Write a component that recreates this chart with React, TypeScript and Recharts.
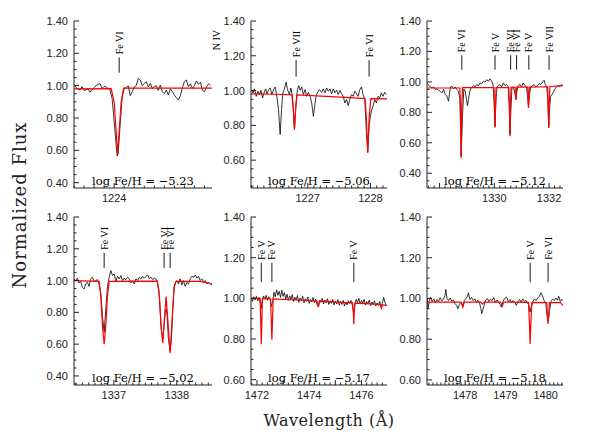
import React from 'react';
import { LineChart, Line, XAxis, YAxis, ReferenceLine, ReferenceDot } from 'recharts';

type Pt = [number, number];

// ---- panel 1 : around 1224 A ----
const obs1: Pt[] = [
  [1223.60, 1.008], [1223.62, 0.988], [1223.64, 0.980], [1223.66, 0.973], [1223.68, 0.994], [1223.70, 0.971],
  [1223.72, 0.975], [1223.74, 0.980], [1223.76, 0.959], [1223.78, 0.975], [1223.80, 0.988], [1223.82, 1.000],
  [1223.84, 1.008], [1223.86, 1.012], [1223.88, 0.983], [1223.90, 0.996], [1223.92, 0.992], [1223.94, 0.983],
  [1223.96, 0.970], [1223.98, 0.920], [1224.00, 0.780], [1224.02, 0.630], [1224.03, 0.565], [1224.04, 0.580],
  [1224.06, 0.760], [1224.08, 0.930], [1224.10, 0.983], [1224.12, 0.988], [1224.14, 1.000], [1224.16, 0.938],
  [1224.18, 0.963], [1224.20, 0.992], [1224.22, 1.000], [1224.24, 1.045], [1224.26, 1.035], [1224.28, 1.000],
  [1224.30, 1.012], [1224.32, 1.025], [1224.34, 0.992], [1224.36, 1.014], [1224.38, 0.983], [1224.40, 0.996],
  [1224.42, 1.000], [1224.44, 0.971], [1224.46, 1.004], [1224.48, 0.963], [1224.50, 0.950], [1224.52, 0.973],
  [1224.54, 0.942], [1224.56, 0.980], [1224.58, 0.963], [1224.60, 0.942], [1224.62, 0.926], [1224.64, 0.911],
  [1224.66, 0.938], [1224.68, 0.988], [1224.70, 1.025], [1224.72, 1.035], [1224.74, 0.994], [1224.76, 1.012],
  [1224.78, 0.983], [1224.80, 1.000], [1224.82, 1.029], [1224.84, 1.008], [1224.86, 1.021], [1224.88, 0.971],
  [1224.90, 0.963], [1224.92, 0.992], [1224.94, 1.012], [1224.96, 1.000],
];
const mod1: Pt[] = [
  [1223.60, 0.980], [1223.97, 0.982], [1224.00, 0.900], [1224.02, 0.720], [1224.034, 0.575],
  [1224.05, 0.720], [1224.07, 0.900], [1224.095, 0.985], [1224.975, 0.985],
];
const ions1 = [{ w: 1224.05, name: 'Fe VI' }, { w: 1225.02, name: 'N IV', noTick: true }];
const fe1 = '−5.23';

// ---- panel 2 : 1226 - 1228 A ----
const obs2: Pt[] = [
  [1226.095, 1.006], [1226.127, 0.987], [1226.148, 1.010], [1226.179, 0.967], [1226.206, 0.996], [1226.232, 0.977],
  [1226.253, 1.002], [1226.280, 0.958], [1226.306, 0.990], [1226.328, 1.010], [1226.349, 0.981], [1226.375, 1.006],
  [1226.402, 1.015], [1226.428, 0.977], [1226.455, 1.006], [1226.481, 1.021], [1226.507, 0.967], [1226.534, 0.891],
  [1226.560, 0.747], [1226.582, 0.891], [1226.603, 0.987], [1226.624, 1.006], [1226.656, 1.048], [1226.677, 1.006],
  [1226.708, 0.977], [1226.730, 1.015], [1226.756, 0.967], [1226.772, 0.872], [1226.788, 0.776], [1226.804, 0.872],
  [1226.820, 0.958], [1226.836, 1.006], [1226.857, 1.029], [1226.878, 1.002], [1226.904, 1.021], [1226.931, 0.977],
  [1226.957, 1.006], [1226.984, 0.967], [1227.010, 0.990], [1227.037, 0.967], [1227.063, 0.929], [1227.090, 0.852],
  [1227.111, 0.910], [1227.132, 0.967], [1227.153, 0.987], [1227.185, 1.006], [1227.222, 0.990], [1227.248, 1.010],
  [1227.275, 0.987], [1227.301, 1.015], [1227.328, 0.996], [1227.354, 1.010], [1227.381, 0.981], [1227.407, 1.010],
  [1227.434, 0.987], [1227.460, 1.002], [1227.487, 0.977], [1227.513, 1.002], [1227.539, 0.983], [1227.566, 0.967],
  [1227.592, 0.929], [1227.619, 0.948], [1227.645, 0.914], [1227.672, 0.952], [1227.698, 0.977], [1227.724, 0.967],
  [1227.751, 0.996], [1227.777, 0.983], [1227.804, 0.967], [1227.830, 1.006], [1227.857, 1.021], [1227.883, 0.977],
  [1227.910, 0.948], [1227.936, 0.757], [1227.957, 0.651], [1227.978, 0.795], [1227.999, 0.852], [1228.021, 0.891],
  [1228.042, 0.910], [1228.068, 0.948], [1228.095, 0.929], [1228.121, 0.967], [1228.148, 0.958], [1228.174, 0.987],
  [1228.201, 0.967], [1228.227, 0.990], [1228.254, 0.977],
];
const mod2: Pt[] = [
  [1226.095, 0.981], [1226.507, 0.979], [1226.746, 0.975], [1226.767, 0.910], [1226.788, 0.776], [1226.809, 0.910],
  [1226.830, 0.975], [1227.301, 0.967], [1227.672, 0.960], [1227.915, 0.954], [1227.936, 0.833], [1227.957, 0.642],
  [1227.978, 0.833], [1228.005, 0.954], [1228.264, 0.952],
];
const ions2 = [{ w: 1226.814, name: 'Fe VII' }, { w: 1227.978, name: 'Fe VI' }];
const fe2 = '−5.06';

// ---- panel 3 : 1328 - 1332 A ----
const obs3: Pt[] = [
  [1327.540, 0.993], [1327.601, 0.976], [1327.661, 0.967], [1327.722, 0.961], [1327.783, 0.967], [1327.843, 0.950],
  [1327.904, 0.954], [1327.964, 0.945], [1328.025, 0.939], [1328.086, 0.928], [1328.146, 0.950], [1328.207, 0.917],
  [1328.267, 0.906], [1328.328, 0.873], [1328.364, 0.928], [1328.401, 0.967], [1328.449, 0.971], [1328.510, 0.954],
  [1328.570, 0.967], [1328.631, 0.950], [1328.692, 0.939], [1328.740, 0.884], [1328.789, 0.511], [1328.837, 0.774],
  [1328.886, 0.954], [1328.934, 0.939], [1328.983, 0.884], [1329.019, 0.844], [1329.055, 0.884], [1329.104, 0.939],
  [1329.152, 0.961], [1329.201, 0.967], [1329.249, 0.976], [1329.298, 0.967], [1329.358, 0.982], [1329.419, 0.976],
  [1329.479, 0.993], [1329.540, 0.989], [1329.601, 1.004], [1329.661, 0.998], [1329.722, 1.015], [1329.783, 1.004],
  [1329.843, 1.020], [1329.904, 1.004], [1329.952, 0.982], [1329.989, 0.884], [1330.025, 0.708], [1330.061, 0.884],
  [1330.098, 0.967], [1330.146, 0.976], [1330.207, 0.982], [1330.267, 0.967], [1330.328, 0.993], [1330.389, 0.976],
  [1330.449, 0.982], [1330.510, 0.967], [1330.546, 0.840], [1330.570, 0.654], [1330.607, 0.818], [1330.643, 0.961],
  [1330.680, 0.967], [1330.716, 0.950], [1330.752, 0.928], [1330.789, 0.884], [1330.825, 0.939], [1330.873, 0.976],
  [1330.934, 0.982], [1330.995, 0.967], [1331.055, 0.993], [1331.116, 0.976], [1331.176, 0.967], [1331.213, 0.906],
  [1331.249, 0.836], [1331.286, 0.917], [1331.334, 0.967], [1331.395, 0.976], [1331.455, 0.982], [1331.516, 0.967],
  [1331.577, 0.976], [1331.637, 0.989], [1331.698, 0.982], [1331.758, 0.998], [1331.819, 1.011], [1331.867, 0.982],
  [1331.916, 0.967], [1331.952, 0.884], [1331.989, 0.702], [1332.025, 0.840], [1332.061, 0.906], [1332.110, 0.917],
  [1332.158, 0.932], [1332.207, 0.950], [1332.267, 0.967], [1332.328, 0.976], [1332.389, 0.967], [1332.449, 0.982],
  [1332.510, 0.976],
];
const mod3: Pt[] = [
  [1327.54, 0.960], [1328.74, 0.960], [1328.765, 0.850], [1328.789, 0.500], [1328.813, 0.850], [1328.84, 0.962],
  [1329.99, 0.963], [1330.005, 0.850], [1330.025, 0.700], [1330.045, 0.850], [1330.065, 0.963], [1330.53, 0.963],
  [1330.55, 0.850], [1330.57, 0.643], [1330.59, 0.850], [1330.61, 0.964], [1330.76, 0.964], [1330.775, 0.920],
  [1330.789, 0.884], [1330.803, 0.920], [1330.82, 0.965], [1331.22, 0.965], [1331.235, 0.900], [1331.249, 0.829],
  [1331.263, 0.900], [1331.28, 0.966], [1331.95, 0.968], [1331.97, 0.850], [1331.989, 0.697], [1332.008, 0.850],
  [1332.03, 0.970], [1332.51, 0.975],
];
const ions3 = [
  { w: 1328.813, name: 'Fe VI' }, { w: 1330.025, name: 'Fe V' }, { w: 1330.595, name: 'Fe VI' },
  { w: 1330.813, name: 'Fe VI' }, { w: 1331.261, name: 'Fe V' }, { w: 1332.001, name: 'Fe VII' },
];
const fe3 = '−5.12';

// ---- panel 4 : 1337 - 1338 A ----
const obs4: Pt[] = [
  [1336.367, 1.011], [1336.394, 1.000], [1336.420, 1.015], [1336.447, 0.985], [1336.473, 0.994], [1336.500, 0.958],
  [1336.527, 0.947], [1336.553, 0.979], [1336.580, 0.989], [1336.606, 0.964], [1336.633, 1.011], [1336.660, 1.021],
  [1336.686, 0.994], [1336.713, 1.000], [1336.739, 1.006], [1336.766, 0.979], [1336.793, 0.916], [1336.819, 0.779],
  [1336.846, 0.674], [1336.872, 0.821], [1336.899, 0.964], [1336.926, 1.021], [1336.952, 1.063], [1336.979, 1.032],
  [1337.005, 1.042], [1337.032, 0.994], [1337.059, 1.027], [1337.085, 1.011], [1337.112, 1.032], [1337.138, 1.000],
  [1337.165, 1.015], [1337.191, 1.006], [1337.218, 1.021], [1337.245, 1.011], [1337.271, 0.985], [1337.298, 1.000],
  [1337.324, 0.979], [1337.351, 1.011], [1337.378, 1.000], [1337.404, 1.021], [1337.431, 1.011], [1337.457, 1.027],
  [1337.484, 1.015], [1337.511, 1.027], [1337.537, 1.036], [1337.564, 1.011], [1337.590, 1.021], [1337.617, 1.006],
  [1337.644, 1.015], [1337.670, 1.011], [1337.691, 0.989], [1337.713, 0.947], [1337.734, 0.821], [1337.755, 0.684],
  [1337.777, 0.636], [1337.798, 0.716], [1337.814, 0.800], [1337.830, 0.821], [1337.846, 0.779], [1337.867, 0.632],
  [1337.894, 0.558], [1337.915, 0.632], [1337.936, 0.821], [1337.957, 0.958], [1337.979, 0.989], [1338.000, 1.000],
  [1338.027, 0.979], [1338.053, 1.011], [1338.080, 0.973], [1338.106, 1.000], [1338.133, 0.964], [1338.160, 0.989],
  [1338.186, 0.979], [1338.213, 1.011], [1338.239, 1.027], [1338.266, 1.021], [1338.293, 1.036], [1338.319, 1.015],
  [1338.346, 1.027], [1338.372, 1.000], [1338.399, 1.011], [1338.426, 0.989], [1338.452, 1.000], [1338.479, 0.979],
  [1338.505, 0.989], [1338.532, 0.979], [1338.559, 0.973],
];
const mod4: Pt[] = [
  [1336.367, 1.000], [1336.766, 0.995], [1336.793, 0.905], [1336.819, 0.716], [1336.846, 0.600], [1336.872, 0.716],
  [1336.899, 0.905], [1336.926, 0.995], [1337.691, 0.996], [1337.723, 0.905], [1337.750, 0.716], [1337.777, 0.606],
  [1337.803, 0.758], [1337.830, 0.900], [1337.856, 0.758], [1337.894, 0.543], [1337.926, 0.758], [1337.957, 0.958],
  [1337.989, 0.995], [1338.370, 0.995], [1338.559, 0.980],
];
const ions4 = [{ w: 1336.846, name: 'Fe VI' }, { w: 1337.798, name: 'Fe VI' }, { w: 1337.894, name: 'Fe VI' }];
const fe4 = '−5.02';

// ---- panel 5 : 1472 - 1477 A ----
const obs5: Pt[] = [
  [1471.78, 1.002], [1471.83, 0.985], [1471.88, 1.008], [1471.93, 0.992], [1471.98, 1.010], [1472.03, 0.988],
  [1472.08, 1.004], [1472.13, 0.975], [1472.16, 0.950], [1472.20, 0.990], [1472.25, 1.012], [1472.30, 0.995],
  [1472.35, 1.015], [1472.40, 0.990], [1472.45, 1.008], [1472.50, 0.996], [1472.55, 0.960], [1472.60, 0.985],
  [1472.65, 1.030], [1472.70, 1.008], [1472.75, 1.042], [1472.80, 1.015], [1472.85, 1.035], [1472.90, 1.005],
  [1472.95, 1.040], [1473.00, 1.010], [1473.05, 1.028], [1473.10, 0.998], [1473.15, 1.020], [1473.20, 0.990],
  [1473.25, 1.012], [1473.30, 0.995], [1473.35, 1.018], [1473.40, 0.985], [1473.45, 1.005], [1473.50, 0.992],
  [1473.55, 1.014], [1473.60, 0.980], [1473.65, 1.002], [1473.70, 0.990], [1473.75, 1.010], [1473.80, 0.978],
  [1473.85, 0.998], [1473.90, 0.985], [1473.95, 1.006], [1474.00, 0.975], [1474.05, 0.995], [1474.10, 0.982],
  [1474.15, 1.004], [1474.20, 0.978], [1474.25, 0.996], [1474.30, 0.970], [1474.35, 0.960], [1474.40, 0.992],
  [1474.45, 0.980], [1474.50, 1.000], [1474.55, 0.972], [1474.60, 0.992], [1474.65, 0.978], [1474.70, 0.998],
  [1474.75, 0.970], [1474.80, 0.988], [1474.85, 0.975], [1474.90, 0.995], [1474.95, 0.968], [1475.00, 0.986],
  [1475.05, 0.972], [1475.10, 0.994], [1475.15, 0.966], [1475.20, 0.985], [1475.25, 0.970], [1475.30, 0.990],
  [1475.35, 0.962], [1475.40, 0.982], [1475.45, 0.968], [1475.50, 0.988], [1475.55, 0.975], [1475.60, 0.990],
  [1475.65, 0.965], [1475.70, 0.930], [1475.75, 0.972], [1475.80, 0.995], [1475.85, 0.978], [1475.90, 1.000],
  [1475.95, 0.972], [1476.00, 0.990], [1476.05, 0.975], [1476.10, 0.995], [1476.15, 0.968], [1476.20, 0.985],
  [1476.25, 0.972], [1476.30, 0.992], [1476.35, 0.965], [1476.40, 0.982], [1476.45, 0.970], [1476.50, 0.988],
  [1476.55, 0.962], [1476.60, 0.978], [1476.65, 0.965], [1476.70, 0.985], [1476.75, 0.958], [1476.80, 0.975],
  [1476.85, 1.005], [1476.90, 0.980], [1476.95, 0.965],
];
const mod5: Pt[] = [
  [1471.771, 1.000], [1472.12, 1.000], [1472.145, 0.880], [1472.165, 0.774], [1472.185, 0.880], [1472.21, 1.000],
  [1472.52, 0.998], [1472.55, 0.880], [1472.571, 0.796], [1472.59, 0.880], [1472.62, 0.997], [1474.30, 0.987],
  [1474.349, 0.957], [1474.40, 0.986], [1475.66, 0.978], [1475.69, 0.930], [1475.708, 0.873], [1475.726, 0.930],
  [1475.75, 0.977], [1476.72, 0.970], [1476.762, 0.952], [1476.80, 0.968], [1476.978, 0.965],
];
const ions5 = [{ w: 1472.165, name: 'Fe V' }, { w: 1472.571, name: 'Fe V' }, { w: 1475.708, name: 'Fe V' }];
const fe5 = '−5.17';

// ---- panel 6 : 1477 - 1480 A ----
const obs6: Pt[] = [
  [1477.06, 0.998], [1477.08, 0.952], [1477.11, 0.990], [1477.14, 1.006], [1477.18, 0.985], [1477.22, 0.998],
  [1477.26, 0.980], [1477.30, 0.995], [1477.34, 0.985], [1477.38, 1.004], [1477.42, 0.988], [1477.46, 0.996],
  [1477.50, 1.015], [1477.52, 1.044], [1477.55, 1.000], [1477.59, 0.990], [1477.63, 1.002], [1477.67, 0.985],
  [1477.71, 0.992], [1477.75, 0.975], [1477.79, 0.965], [1477.82, 0.950], [1477.86, 0.972], [1477.90, 0.982],
  [1477.94, 0.967], [1477.98, 0.990], [1478.02, 1.000], [1478.06, 1.012], [1478.08, 1.028], [1478.12, 0.995],
  [1478.16, 1.005], [1478.20, 0.990], [1478.24, 0.998], [1478.28, 0.980], [1478.32, 0.992], [1478.36, 0.975],
  [1478.39, 0.950], [1478.41, 0.925], [1478.44, 0.945], [1478.47, 0.965], [1478.51, 0.992], [1478.55, 1.000],
  [1478.59, 0.985], [1478.63, 0.996], [1478.67, 0.990], [1478.71, 1.004], [1478.75, 0.980], [1478.79, 0.992],
  [1478.83, 0.985], [1478.87, 0.970], [1478.90, 0.957], [1478.94, 0.985], [1478.98, 1.000], [1479.03, 1.007],
  [1479.07, 0.985], [1479.11, 0.995], [1479.15, 0.978], [1479.19, 0.990], [1479.23, 0.982], [1479.27, 0.966],
  [1479.31, 0.985], [1479.35, 0.995], [1479.39, 0.982], [1479.43, 0.998], [1479.47, 0.985], [1479.51, 0.990],
  [1479.55, 0.978], [1479.58, 0.967], [1479.61, 0.933], [1479.64, 0.960], [1479.68, 0.985], [1479.72, 0.998],
  [1479.76, 0.990], [1479.80, 1.002], [1479.84, 1.010], [1479.88, 1.028], [1479.92, 1.012], [1479.96, 0.990],
  [1480.00, 0.975], [1480.03, 0.920], [1480.06, 0.887], [1480.09, 0.935], [1480.13, 0.985], [1480.17, 0.998],
  [1480.21, 0.990], [1480.25, 1.002], [1480.29, 0.992], [1480.32, 1.011], [1480.36, 0.985], [1480.40, 0.996],
  [1480.43, 0.990],
];
const mod6: Pt[] = [
  [1477.053, 0.982], [1477.90, 0.982], [1477.942, 0.957], [1477.98, 0.982], [1478.39, 0.982], [1478.428, 0.972],
  [1478.47, 0.982], [1478.88, 0.982], [1478.922, 0.962], [1478.96, 0.982], [1479.57, 0.981], [1479.595, 0.880],
  [1479.613, 0.777], [1479.631, 0.880], [1479.655, 0.981], [1480.025, 0.980], [1480.042, 0.920], [1480.058, 0.875],
  [1480.074, 0.920], [1480.09, 0.980], [1480.36, 0.980], [1480.428, 0.965],
];
const ions6 = [{ w: 1479.613, name: 'Fe V' }, { w: 1480.058, name: 'Fe VI' }];
const fe6 = '−5.18';

// axis ranges and labelled ticks
const xDom = [[1223.6, 1224.975], [1226.095, 1228.264], [1327.54, 1332.51], [1336.367, 1338.559], [1471.771, 1476.978], [1477.053, 1480.428]];
const xLab = [[1224], [1227, 1228], [1330, 1332], [1337, 1338], [1472, 1474, 1476], [1478, 1479, 1480]];
const xMinorStep = [0.1, 0.1, 0.2, 0.1, 0.2, 0.1];
const yDom = [[0.367, 1.4], [0.44, 1.4], [0.303, 1.4], [0.343, 1.4], [0.574, 1.4], [0.575, 1.4]];
const yLabLow = [0.4, 0.6, 0.4, 0.4, 0.6, 0.6];

const range = (a: number, b: number, s: number) => {
  const out: number[] = [];
  for (let v = Math.ceil(a / s - 1e-6) * s; v <= b + 1e-9; v += s) out.push(Math.round(v * 1000) / 1000);
  return out;
};
const toRows = (pts: Pt[]) => pts.map(([w, f]) => ({ w, f }));
const has = (arr: number[], v: number) => arr.some((a) => Math.abs(a - v) < 1e-6);

const AX = '#222';
const tickFont = { fontFamily: '"Liberation Sans", Arial, sans-serif', fontSize: 11, fill: '#222' };

const layout = [
  { left: 74, top: 21, w: 138, h: 167 },
  { left: 251, top: 21, w: 136, h: 167 },
  { left: 427, top: 21, w: 136, h: 167 },
  { left: 74, top: 217, w: 138, h: 168 },
  { left: 251, top: 217, w: 136, h: 168 },
  { left: 427, top: 217, w: 136, h: 168 },
];

const panels = [
  { obs: obs1, mod: mod1, ions: ions1, fe: fe1 },
  { obs: obs2, mod: mod2, ions: ions2, fe: fe2 },
  { obs: obs3, mod: mod3, ions: ions3, fe: fe3 },
  { obs: obs4, mod: mod4, ions: ions4, fe: fe4 },
  { obs: obs5, mod: mod5, ions: ions5, fe: fe5 },
  { obs: obs6, mod: mod6, ions: ions6, fe: fe6 },
];

const makeTick = (side: string, labels: number[], majors: number[], digits: number) => (props: any) => {
  const { x, y, payload } = props;
  const v = payload.value;
  const big = has(majors, v);
  const len = big ? 5 : 2.5;
  let tick;
  if (side === 'bottom') tick = <line x1={x} x2={x} y1={y} y2={y - len} stroke={AX} />;
  else if (side === 'top') tick = <line x1={x} x2={x} y1={y} y2={y + len} stroke={AX} />;
  else if (side === 'left') tick = <line x1={x} x2={x + len} y1={y} y2={y} stroke={AX} />;
  else tick = <line x1={x} x2={x - len} y1={y} y2={y} stroke={AX} />;
  let label = null;
  if (has(labels, v)) {
    if (side === 'bottom')
      label = <text x={x} y={y + 14} textAnchor="middle" {...tickFont}>{v.toFixed(digits)}</text>;
    if (side === 'left')
      label = <text x={x - 6} y={y + 4} textAnchor="end" {...tickFont}>{v.toFixed(digits)}</text>;
  }
  return <g>{tick}{label}</g>;
};

const IonLabel = (props: any) => {
  const { cx, cy, name } = props;
  return (
    <text
      transform={`translate(${cx + 3.5},${cy - 3}) rotate(-90)`}
      fontFamily='"Liberation Serif", serif'
      fontSize={10}
      fill="#000"
    >
      {name}
    </text>
  );
};

const EXTRA = 12;

function Panel({ i }: { i: number }) {
  const L = layout[i];
  const p = panels[i];
  const xd = xDom[i];
  const yd = yDom[i];
  const xMajor = range(xd[0], xd[1], 1);
  const xt = Array.from(new Set([...range(xd[0], xd[1], xMinorStep[i]), ...xLab[i]]));
  const yLabels = range(yLabLow[i], 1.4, 0.2);
  const yt = Array.from(new Set([...range(yd[0], yd[1], 0.05), ...yLabels]));
  const W = L.w + 45 + EXTRA;
  const H = L.h + 25;
  const common = { tickLine: false, tickSize: 0, tickMargin: 0, interval: 0 as const, stroke: AX, allowDataOverflow: true };
  return (
    <div style={{ position: 'absolute', left: L.left - 40, top: L.top - 5 }}>
      <LineChart width={W} height={H} margin={{ top: 5, right: 5 + EXTRA, left: 0, bottom: 0 }}>
        <XAxis xAxisId={0} type="number" dataKey="w" domain={xd} ticks={xt} height={20} {...common}
          tick={makeTick('bottom', xLab[i], [...xMajor, ...xLab[i]], 0)} />
        <XAxis xAxisId="top" orientation="top" type="number" dataKey="w" domain={xd} ticks={xt} height={0} {...common}
          tick={makeTick('top', [], [...xMajor, ...xLab[i]], 0)} />
        <YAxis yAxisId={0} type="number" domain={yd} ticks={yt} width={40} {...common}
          tick={makeTick('left', yLabels, yLabels, 2)} />
        <YAxis yAxisId="right" orientation="right" type="number" domain={yd} ticks={yt} width={0} {...common}
          tick={makeTick('right', [], yLabels, 2)} />
        <Line data={toRows(p.obs)} dataKey="f" type="linear" stroke="#000" strokeWidth={0.8} dot={false} isAnimationActive={false} />
        <Line data={toRows(p.mod)} dataKey="f" type="linear" stroke="#ff0000" strokeWidth={1.2} dot={false} isAnimationActive={false} />
        {p.ions.map((ion: any, k: number) =>
          ion.noTick ? null : (
            <ReferenceLine key={'l' + k} segment={[{ x: ion.w, y: 1.08 }, { x: ion.w, y: 1.175 }]} stroke="#000" strokeWidth={0.9} ifOverflow="visible" />
          )
        )}
        {p.ions.map((ion: any, k: number) => (
          <ReferenceDot key={'t' + k} x={ion.w} y={ion.noTick ? 1.2 : 1.175} r={0} ifOverflow="visible"
            shape={(s: any) => <IonLabel cx={s.cx} cy={s.cy} name={ion.name} />} />
        ))}
      </LineChart>
      <div style={{
        position: 'absolute', left: 40, width: L.w, top: L.h - 9, textAlign: 'center',
        fontFamily: '"DejaVu Serif", serif', fontSize: 11.5, color: '#000', whiteSpace: 'pre',
      }}>
        {'log Fe/H = ' + p.fe}
      </div>
    </div>
  );
}

export default function App() {
  return (
    <div style={{ position: 'absolute', left: 0, top: 0, width: 612, height: 447, background: '#fff', overflow: 'hidden' }}>
      {panels.map((_, i) => <Panel key={i} i={i} />)}
      <div style={{
        position: 'absolute', left: 19, top: 205, transform: 'translate(-50%, -50%) rotate(-90deg)',
        fontFamily: '"DejaVu Serif", serif', fontSize: 18, letterSpacing: 1, whiteSpace: 'nowrap', color: '#222',
      }}>
        Normalized Flux
      </div>
      <div style={{
        position: 'absolute', left: 329, top: 420, transform: 'translate(-50%, -50%)',
        fontFamily: '"DejaVu Serif", serif', fontSize: 16, letterSpacing: 0.5, whiteSpace: 'nowrap', color: '#222',
      }}>
        Wavelength (Å)
      </div>
    </div>
  );
}
